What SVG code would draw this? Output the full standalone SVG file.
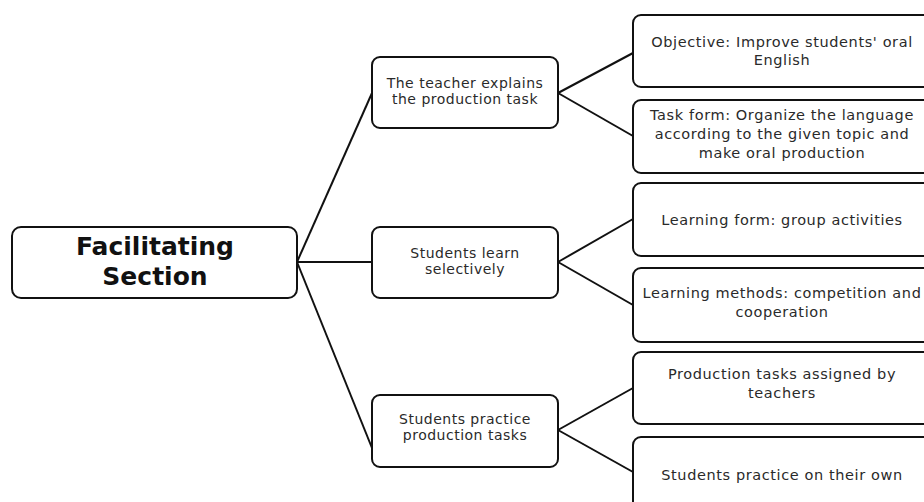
<svg xmlns="http://www.w3.org/2000/svg" width="924" height="502" viewBox="0 0 924 502">
<style>
  .box { fill: #ffffff; stroke: #111111; stroke-width: 2; }
  .conn line { stroke: #111111; stroke-width: 2; }
  text { font-family: "DejaVu Sans", "Noto Sans", "Liberation Sans", sans-serif; fill: #2a2a2a; text-anchor: middle; }
  .root { font-size: 25px; font-weight: bold; fill: #111111; }
  .mid { font-size: 14px; letter-spacing: 0.5px; }
  .leaf { font-size: 14.5px; letter-spacing: 0.6px; }
</style>
<rect width="924" height="502" fill="#ffffff"/>
<g id="connectors" class="conn">
  <line x1="297" y1="262" x2="372" y2="93"/>
  <line x1="297" y1="262" x2="372" y2="262"/>
  <line x1="297" y1="262" x2="372" y2="448"/>
  <line x1="558" y1="93" x2="633" y2="53"/>
  <line x1="558" y1="93" x2="633" y2="136"/>
  <line x1="558" y1="262" x2="633" y2="219"/>
  <line x1="558" y1="262" x2="633" y2="305"/>
  <line x1="558" y1="430" x2="633" y2="388"/>
  <line x1="558" y1="430" x2="633" y2="472"/>
</g>
<g id="root">
  <rect class="box" x="12" y="227" width="285" height="71" rx="9"/>
  <text class="root" x="155" y="255">Facilitating</text>
  <text class="root" x="155" y="285">Section</text>
</g>
<g id="teacher-explains">
  <rect class="box" x="372" y="57" width="186" height="71" rx="8"/>
  <text class="mid" x="465" y="88">The teacher explains</text>
  <text class="mid" x="465" y="104">the production task</text>
</g>
<g id="learn-selectively">
  <rect class="box" x="372" y="227" width="186" height="71" rx="8"/>
  <text class="mid" x="465" y="258">Students learn</text>
  <text class="mid" x="465" y="274">selectively</text>
</g>
<g id="practice-tasks">
  <rect class="box" x="372" y="395" width="186" height="72" rx="8"/>
  <text class="mid" x="465" y="424">Students practice</text>
  <text class="mid" x="465" y="440">production tasks</text>
</g>
<g id="objective">
  <rect class="box" x="633" y="15" width="300" height="72" rx="8"/>
  <text class="leaf" x="782" y="47">Objective: Improve students' oral</text>
  <text class="leaf" x="782" y="65">English</text>
</g>
<g id="task-form">
  <rect class="box" x="633" y="100" width="300" height="73" rx="8"/>
  <text class="leaf" x="782" y="120">Task form: Organize the language</text>
  <text class="leaf" x="782" y="139">according to the given topic and</text>
  <text class="leaf" x="782" y="158">make oral production</text>
</g>
<g id="learning-form">
  <rect class="box" x="633" y="183" width="300" height="73" rx="8"/>
  <text class="leaf" x="782" y="225">Learning form: group activities</text>
</g>
<g id="learning-methods">
  <rect class="box" x="633" y="268" width="300" height="74" rx="8"/>
  <text class="leaf" x="782" y="298">Learning methods: competition and</text>
  <text class="leaf" x="782" y="317">cooperation</text>
</g>
<g id="assigned-tasks">
  <rect class="box" x="633" y="352" width="300" height="72" rx="8"/>
  <text class="leaf" x="782" y="379">Production tasks assigned by</text>
  <text class="leaf" x="782" y="398">teachers</text>
</g>
<g id="own-practice">
  <rect class="box" x="633" y="437" width="300" height="80" rx="8"/>
  <text class="leaf" x="782" y="480">Students practice on their own</text>
</g>
</svg>
